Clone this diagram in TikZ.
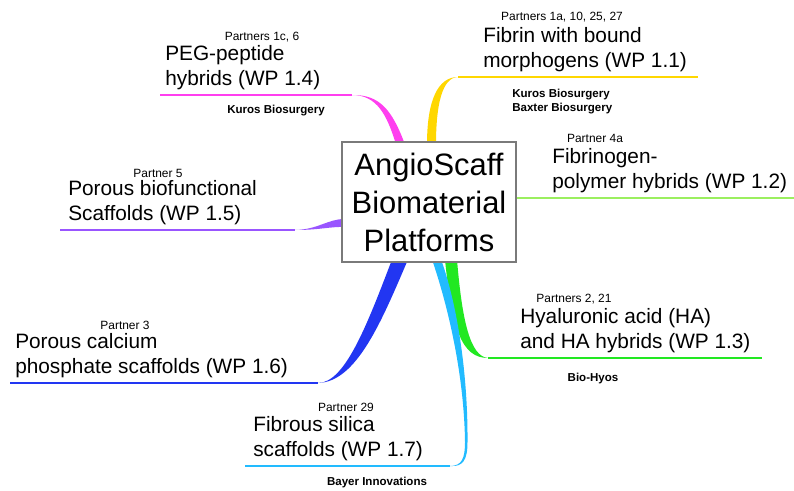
\documentclass[tikz,border=0pt]{standalone}
\usepackage{fontspec}
\setmainfont{Liberation Sans}
\usetikzlibrary{calc, backgrounds}
\definecolor{pegPink}{HTML}{FF3FEF}
\definecolor{fibYellow}{HTML}{FFD700}
\definecolor{fgnGreen}{HTML}{9BEF5F}
\definecolor{hyaGreen}{HTML}{22E822}
\definecolor{pbsPurple}{HTML}{9955FF}
\definecolor{pcpBlue}{HTML}{2236F2}
\definecolor{fssCyan}{HTML}{22BBFF}
\definecolor{boxGray}{HTML}{7A7A7A}
\newcommand{\hubfont}{\fontsize{22}{27}\selectfont}
\newcommand{\wpfont}{\fontsize{14.8}{18}\selectfont}
\newcommand{\partnerfont}{\fontsize{8.5}{10}\selectfont}
\newcommand{\firmfont}{\fontsize{8.2}{10.6}\selectfont\bfseries}

\begin{document}
\begin{tikzpicture}[x=0.025cm, y=-0.025cm,
    wp/.style={anchor=south west, inner sep=0pt, align=left, font=\wpfont},
    partner/.style={inner sep=0pt, font=\partnerfont},
    firm/.style={inner sep=0pt, align=left, font=\firmfont},
    stem/.style={line width=0.8pt}]
  \useasboundingbox (0,0) rectangle (794,491);
  \node[draw=boxGray, fill=white, line width=0.8pt, minimum width=4.35cm, minimum height=3cm,
    align=center, font=\hubfont] (hub) at (429,202) {AngioScaff\\Biomaterial\\Platforms};
  % work packages
  \foreach \n/\x/\y/\t in {peg/165/95/{PEG-peptide\\hybrids (WP 1.4)},
      fib/483/77/{Fibrin with bound\\morphogens (WP 1.1)},
      fgn/552/198/{Fibrinogen-\\polymer hybrids (WP 1.2)},
      hya/520/358/{Hyaluronic acid (HA)\\and HA hybrids (WP 1.3)},
      pbs/68/230/{Porous biofunctional\\Scaffolds (WP 1.5)},
      pcp/15/383/{Porous calcium\\phosphate scaffolds (WP 1.6)},
      fss/253/466/{Fibrous silica\\scaffolds (WP 1.7)}}
    \node[wp] (t\n) at (\x,\y-4.5) {\t};
  \foreach \n/\x/\y/\t in {peg/262/37/{Partners 1c, 6}, fib/562/17/{Partners 1a, 10, 25, 27},
      fgn/595/138/{Partner 4a}, hya/574/299/{Partners 2, 21}, pbs/158/173/{Partner 5},
      pcp/125/325/{Partner 3}, fss/346/407/{Partner 29}}
    \node[partner] (p\n) at (\x,\y) {\t};
  \node[firm] (fpeg) at (276,111) {Kuros Biosurgery};
  \node[firm, anchor=west] (ffib) at (512,101.5) {Kuros Biosurgery\\Baxter Biosurgery};
  \node[firm] (fhya) at (593,379) {Bio-Hyos};
  \node[firm] (ffss) at (377,483) {Bayer Innovations};
  % branches
  \begin{scope}[on background layer]
    \coordinate (pegL) at (160,95); \coordinate (pegT) at (352,95);
    \draw[stem, pegPink] (pegL) -- (pegT);
    \fill[pegPink] (pegT) .. controls (377,95) and (387,115) .. ($(hub.north)+(-33,3)$)
      -- ($(hub.north)+(-24,3)$) .. controls (392,110) and (380,94.6) .. (pegT) -- cycle;
    \coordinate (fibR) at (698,77); \coordinate (fibT) at (458,77);
    \draw[stem, fibYellow] (fibT) -- (fibR);
    \fill[fibYellow] (fibT) .. controls (438,77) and (427,100) .. ($(hub.north)+(-2,3)$)
      -- ($(hub.north)+(7,3)$) .. controls (436,105) and (442,77.5) .. (fibT) -- cycle;
    \coordinate (fgnR) at (794,198);
    \draw[line width=1.1pt, fgnGreen] ($(hub.east)+(-2,-4)$) -- (fgnR);
    \coordinate (hyaR) at (762,358); \coordinate (hyaT) at (488,358);
    \draw[stem, hyaGreen] (hyaT) -- (hyaR);
    \fill[hyaGreen] ($(hub.south)+(16,-3)$) .. controls (452,330) and (462,358) .. (hyaT)
      .. controls (470,356.5) and (462,320) .. ($(hub.south)+(28,-3)$) -- cycle;
    \coordinate (pbsL) at (60,230); \coordinate (pbsT) at (295,230);
    \draw[stem, pbsPurple] (pbsL) -- (pbsT);
    \fill[pbsPurple] (pbsT) .. controls (320,230) and (330,226.5) .. ($(hub.west)+(3,25)$)
      -- ($(hub.west)+(3,17)$) .. controls (328,219) and (318,229.5) .. (pbsT) -- cycle;
    \coordinate (pcpL) at (10,383); \coordinate (pcpT) at (318,383);
    \draw[stem, pcpBlue] (pcpL) -- (pcpT);
    \fill[pcpBlue] (pcpT) .. controls (345,383) and (367,325) .. ($(hub.south)+(-37,-3)$)
      -- ($(hub.south)+(-21,-3)$) .. controls (382,320) and (357,382) .. (pcpT) -- cycle;
    \coordinate (fssL) at (245,466); \coordinate (fssT) at (450,466);
    \draw[stem, fssCyan] (fssL) -- (fssT);
    \fill[fssCyan] (fssT) .. controls (462,466) and (465,458) .. (465,442)
      .. controls (464,370) and (446,300) .. ($(hub.south)+(3,-3)$)
      -- ($(hub.south)+(12,-3)$) .. controls (456,300) and (468,370) .. (467.5,442)
      .. controls (467.5,460) and (463,467) .. (fssT) -- cycle;
  \end{scope}
\end{tikzpicture}
\end{document}
